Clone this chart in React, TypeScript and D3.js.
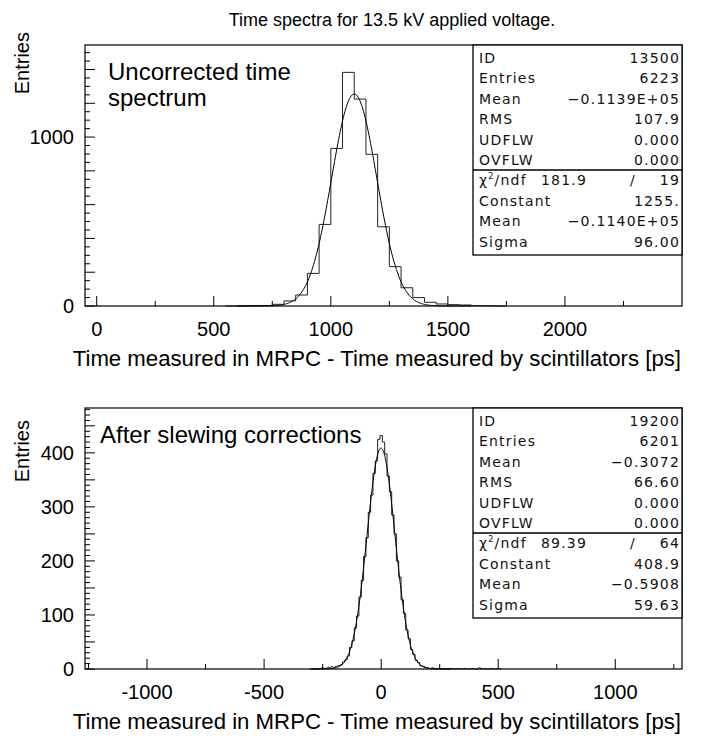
import React from 'react';
import * as d3 from 'd3';

// upper panel: uncorrected spectrum, bins of 50 ps (low edge, entries)
const topBinLow = [550, 600, 650, 700, 750, 800, 850, 900, 950, 1000, 1050, 1100, 1150, 1200, 1250, 1300, 1350, 1400, 1450, 1500, 1550, 1600, 1650, 1700];
const topCounts = [0, 1, 2, 3, 10, 30, 65, 193, 483, 933, 1383, 1225, 898, 469, 233, 108, 50, 22, 12, 8, 6, 2, 1, 0];

// lower panel: after slewing corrections, bins of 10 ps (centre, entries)
const bottomBinCenter = [
  -300, -290, -280, -270, -260, -250, -240, -230, -220, -210, -200, -190, -180, -170, -160, -150,
  -140, -130, -120, -110, -100, -90, -80, -70, -60, -50, -40, -30, -20, -10, 0, 10, 20, 30, 40,
  50, 60, 70, 80, 90, 100, 110, 120, 130, 140, 150, 160, 170, 180, 190, 200, 210, 220, 230, 240,
  250, 260, 270, 280, 290, 300, 310, 320, 330, 340, 350, 360, 370, 380, 390, 400, 410, 420, 430,
  440, 450, 460, 470, 480, 490, 500, 510,
];
const bottomCounts = [
  0, 0, 1, 0, 1, 2, 1, 2, 3, 4, 3, 5, 6, 8, 13, 17,
  24, 40, 52, 76, 98, 133, 164, 208, 243, 290, 322, 362, 385, 425, 432, 420, 398, 357, 328,
  285, 250, 200, 170, 128, 103, 72, 56, 36, 27, 16, 12, 6, 5, 3, 2, 1, 2, 1, 0,
  1, 0, 1, 0, 0, 1, 0, 0, 1, 0, 0, 1, 0, 0, 1, 0, 0, 2, 0,
  1, 0, 0, 1, 0, 0, 1, 0,
];

const statNames = ['ID', 'Entries', 'Mean', 'RMS', 'UDFLW', 'OVFLW'];
const fitNames = ['Constant', 'Mean', 'Sigma'];

const topStatValues = ['13500', '6223', '\u22120.1139E+05', '107.9', '0.000', '0.000'];
const topChi = ['181.9', '19'];
const topFitValues = ['1255.', '\u22120.1140E+05', '96.00'];
const topFit = [1255, 1100, 96]; // constant, mean (axis units), sigma

const bottomStatValues = ['19200', '6201', '\u22120.3072', '66.60', '0.000', '0.000'];
const bottomChi = ['89.39', '64'];
const bottomFitValues = ['408.9', '\u22120.5908', '59.63'];
const bottomFit = [408.9, -0.5908, 59.63];

const W = 708;
const H = 742;
const left = 85;
const right = 682;
const plotH = 261;
const mainFont = '"Liberation Sans", Arial, sans-serif';
const boxFont = '"DejaVu Sans", sans-serif';

type PanelProps = {
  top: number;
  xDomain: [number, number];
  yMax: number;
  yMinor: number;
  yMajor: number;
  yLabels: number[];
  xLabels: number[];
  bins: [number, number, number][]; // lo, hi, count
  fit: number[];
  fitRange: [number, number];
  statValues: string[];
  chi: string[];
  fitValues: string[];
  note: string[];
  noteX: number;
  entriesY: number;
};

function Panel(p: PanelProps) {
  const bottom = p.top + plotH;
  const x = d3.scaleLinear().domain(p.xDomain).range([left, right]);
  const y = d3.scaleLinear().domain([0, p.yMax]).range([bottom, p.top]);

  const histPts: [number, number][] = [];
  p.bins.forEach(([lo, hi, c], i) => {
    if (i === 0) histPts.push([lo, 0]);
    histPts.push([lo, c], [hi, c]);
  });
  histPts.push([p.bins[p.bins.length - 1][1], 0]);
  const line = d3.line<[number, number]>().x(d => x(d[0])).y(d => y(d[1]));

  const [A, mu, sig] = p.fit;
  const fitPts: [number, number][] = d3
    .range(p.fitRange[0], p.fitRange[1] + 0.01, (p.fitRange[1] - p.fitRange[0]) / 300)
    .map(v => [v, A * Math.exp(-0.5 * ((v - mu) / sig) ** 2)]);

  const xStart = Math.ceil(p.xDomain[0] / 250) * 250;
  const xTicks = d3.range(xStart, p.xDomain[1], 250);
  const yTicks = d3.range(0, p.yMax, p.yMinor);

  const boxL = 473;
  const boxH = 210;
  const textX = boxL + 6;
  const valX = right - 2;
  const rowY = (i: number) => p.top + 18 + 20.4 * i;

  return (
    <g>
      {/* axis ticks */}
      {xTicks.map(t => (
        <line key={'x' + t} x1={x(t)} x2={x(t)} y1={bottom} y2={bottom - (t % 500 === 0 ? 10 : 5)} stroke="#000" />
      ))}
      {yTicks.map(t => (
        <line key={'y' + t} x1={left} x2={left + (t % p.yMajor === 0 ? 10 : 5)} y1={y(t)} y2={y(t)} stroke="#000" />
      ))}
      {p.xLabels.map(t => (
        <text key={'xl' + t} x={x(t)} y={bottom + 30} textAnchor="middle" fontSize={20} fontFamily={mainFont}>
          {t}
        </text>
      ))}
      {p.yLabels.map(t => (
        <text key={'yl' + t} x={left - 11} y={y(t) + 7} textAnchor="end" fontSize={20} fontFamily={mainFont}>
          {t}
        </text>
      ))}

      <path d={line(histPts) ?? ''} fill="none" stroke="#222" strokeWidth={1} />
      <path d={line(fitPts) ?? ''} fill="none" stroke="#000" strokeWidth={1} />

      {p.note.map((s, i) => (
        <text key={s} x={p.noteX} y={p.top + 35 + i * 26} fontSize={24} fontFamily={mainFont}>
          {s}
        </text>
      ))}

      <rect x={left} y={p.top} width={right - left} height={plotH} fill="none" stroke="#000" strokeWidth={1.2} />

      {/* statistics box */}
      <rect x={boxL} y={p.top} width={right - boxL} height={boxH} fill="#fff" stroke="#000" strokeWidth={1.3} />
      <line x1={boxL} x2={right} y1={p.top + 125} y2={p.top + 125} stroke="#000" strokeWidth={1.3} />
      <g fontFamily={boxFont} fontSize={14} fill="#111" letterSpacing={1.2}>
        {statNames.map((s, i) => (
          <g key={'s' + i}>
            <text x={textX} y={rowY(i)}>{s}</text>
            <text x={valX} y={rowY(i)} textAnchor="end">{p.statValues[i]}</text>
          </g>
        ))}
        <text x={textX} y={rowY(6)}>
          <tspan>{'\u03c7'}</tspan>
          <tspan dy={-6} fontSize={8}>2</tspan>
          <tspan dy={6}>/ndf</tspan>
        </text>
        <text x={boxL + 91} y={rowY(6)} textAnchor="middle">{p.chi[0]}</text>
        <text x={boxL + 160} y={rowY(6)} textAnchor="middle">/</text>
        <text x={valX} y={rowY(6)} textAnchor="end">{p.chi[1]}</text>
        {fitNames.map((s, i) => (
          <g key={'f' + i}>
            <text x={textX} y={rowY(7 + i)}>{s}</text>
            <text x={valX} y={rowY(7 + i)} textAnchor="end">{p.fitValues[i]}</text>
          </g>
        ))}
      </g>

      <text x={681} y={bottom + 60} textAnchor="end" fontSize={22.2} fontFamily={mainFont}>
        Time measured in MRPC - Time measured by scintillators [ps]
      </text>
      <text
        transform={`translate(29, ${p.entriesY}) rotate(-90)`}
        textAnchor="end"
        fontSize={20}
        fontFamily={mainFont}
      >
        Entries
      </text>
    </g>
  );
}

export default function App() {
  const topBins: [number, number, number][] = topBinLow.map((lo, i) => [lo, lo + 50, topCounts[i]]);
  const bottomBins: [number, number, number][] = bottomBinCenter.map((c, i) => [c - 5, c + 5, bottomCounts[i]]);

  return (
    <svg width={W} height={H} style={{ position: 'absolute', left: 0, top: 0, background: '#fff' }}>
      <text x={392} y={26} textAnchor="middle" fontSize={18} fontFamily={mainFont}>
        Time spectra for 13.5 kV applied voltage.
      </text>
      <Panel
        top={45}
        xDomain={[-50, 2500]}
        yMax={1545}
        yMinor={50}
        yMajor={200}
        yLabels={[0, 1000]}
        xLabels={[0, 500, 1000, 1500, 2000]}
        bins={topBins}
        fit={topFit}
        fitRange={[600, 1600]}
        statValues={topStatValues}
        chi={topChi}
        fitValues={topFitValues}
        note={['Uncorrected time', 'spectrum']}
        noteX={108}
        entriesY={32}
      />
      <Panel
        top={408}
        xDomain={[-1265, 1285]}
        yMax={483}
        yMinor={10}
        yMajor={50}
        yLabels={[0, 100, 200, 300, 400]}
        xLabels={[-1000, -500, 0, 500, 1000]}
        bins={bottomBins}
        fit={bottomFit}
        fitRange={[-300, 300]}
        statValues={bottomStatValues}
        chi={bottomChi}
        fitValues={bottomFitValues}
        note={['After slewing corrections']}
        noteX={100}
        entriesY={420}
      />
    </svg>
  );
}
